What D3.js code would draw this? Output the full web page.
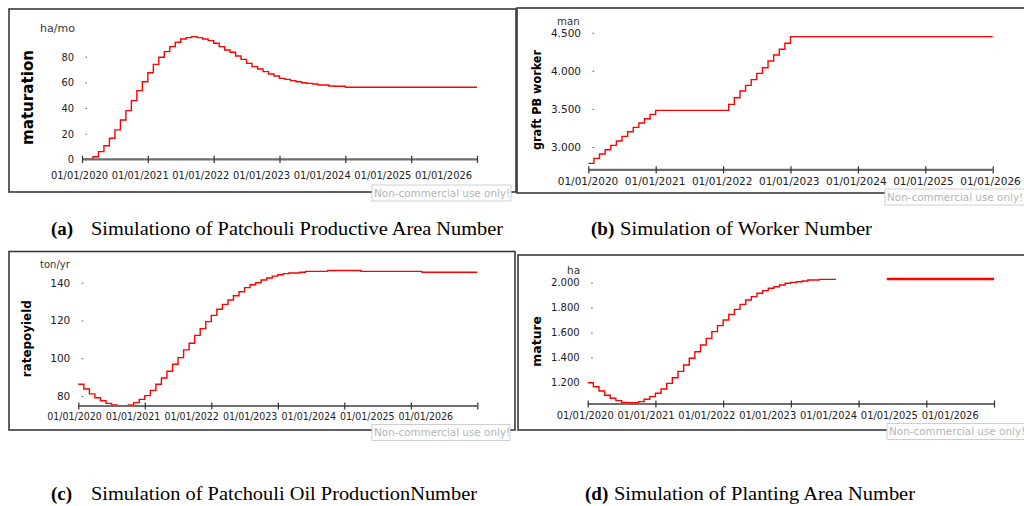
<!DOCTYPE html>
<html>
<head>
<meta charset="utf-8">
<script src="https://cdn.jsdelivr.net/npm/d3@7"></script>
<style>
  body { margin: 0; background: #fff; }
  svg { display: block; }
</style>
</head>
<body>
<script>
// tick labels on the time axis, one per year (a step = one month)
var yearLabels = ["01/01/2020", "01/01/2021", "01/01/2022", "01/01/2023", "01/01/2024", "01/01/2025", "01/01/2026"];
var yearMonths = [0, 12, 24, 36, 48, 60, 72];

// (a) maturation, ha/mo
var maturation = [0, 0, 2, 6, 10.6, 16.4, 22.9, 30.6, 37.9, 45.7, 53.5, 60.5,
    67.5, 74, 79.5, 83.9, 87.8, 91.2, 93.8, 94.8, 95.6, 94.8, 93.8, 92.5,
    90.4, 87.8, 85.2, 83.4, 80.5, 77.9, 74.8, 72.2, 70.4, 68.3, 66.5, 64.9,
    63.1, 62.3, 61.3, 60.5, 59.7, 59.2, 58.7, 57.9, 57.9, 57.1, 56.9, 56.9,
    56.1, 56.1, 56.1, 56.1, 56.1, 56.1, 56.1, 56.1, 56.1, 56.1, 56.1, 56.1,
    56.1, 56.1, 56.1, 56.1, 56.1, 56.1, 56.1, 56.1, 56.1, 56.1, 56.1, 56.1];

// (b) graft PB worker, man
var graftWorker = [2786, 2851, 2908, 2965, 3022, 3079, 3140, 3201, 3258, 3315, 3372, 3429,
    3481, 3481, 3481, 3481, 3481, 3481, 3481, 3481, 3481, 3481, 3481, 3481,
    3481, 3560, 3647, 3735, 3809, 3884, 3967, 4041, 4129, 4208, 4282, 4361,
    4448, 4448, 4448, 4448, 4448, 4448, 4448, 4448, 4448, 4448, 4448, 4448,
    4448, 4448, 4448, 4448, 4448, 4448, 4448, 4448, 4448, 4448, 4448, 4448,
    4448, 4448, 4448, 4448, 4448, 4448, 4448, 4448, 4448, 4448, 4448, 4448];

// (c) ratepoyield, ton/yr
var ratePoYield = [86.2, 83.7, 81.1, 79.1, 77.5, 76.1, 75.2, 74.7, 74.7, 75.2, 76.5, 78.2,
    80.2, 83, 86.2, 89.5, 93.1, 96.8, 100.3, 104.4, 107.9, 112.1, 115.7, 119.4,
    122.7, 125.9, 128.5, 130.8, 133.1, 135.2, 137.4, 138.9, 140, 141.4, 142.5, 143.5,
    144.2, 144.8, 145.1, 145.1, 145.5, 146, 146, 146, 146, 146.5, 146.5, 146.5,
    146.5, 146.5, 146.5, 146, 146, 146, 146, 146, 146, 146, 146, 146,
    146, 146, 145.5, 145.5, 145.5, 145.5, 145.5, 145.5, 145.5, 145.5, 145.5, 145.5];

// (d) mature, ha  (null = no value drawn)
var matureArea = [1197, 1165, 1130, 1096, 1072, 1053, 1039, 1037, 1037, 1045, 1064, 1085,
    1112, 1146, 1192, 1237, 1288, 1339, 1393, 1446, 1500, 1553, 1607, 1655,
    1700, 1746, 1786, 1826, 1861, 1888, 1915, 1936, 1955, 1968, 1981, 1995,
    2003, 2008, 2014, 2022, 2022, 2027, 2027, 2027, null, null, null, null,
    null, null, null, null, null, 2030, 2030, 2030, 2030, 2030, 2030, 2030,
    2030, 2030, 2030, 2030, 2030, 2030, 2030, 2030, 2030, 2030, 2030, 2030];

var ticksA = [0, 20, 40, 60, 80],
    ticksB = [3000, 3500, 4000, 4500],
    ticksC = [80, 100, 120, 140],
    ticksD = [1200, 1400, 1600, 1800, 2000];

var dotFormat = d3.formatLocale({decimal: ",", thousands: ".", grouping: [3], currency: ["", ""]}).format(",.0f");

var panels = [
  {values: maturation, title: "maturation", unit: "ha/mo", ticks: ticksA, fmt: d3.format("d"),
   frame: [9, 9, 507, 183], xr: [82, 477], xl: [79, 443], xlabY: 16, xFont: "DejaVu Sans Condensed", xSize: 11,
   yd: [0, 100], yr: [159.3, 31], yAxisX: 87, ySize: 11, yFont: "DejaVu Sans Condensed",
   titleX: 27.5, titleY: 97.5, titleLen: 95, titleSize: 15, unitX: 40, unitY: 32, unitSize: 11,
   mark: [372, 185, 139, 16]},
  {values: graftWorker, title: "graft PB worker", unit: "man", ticks: ticksB, fmt: dotFormat,
   frame: [517, 8, 520, 185], xr: [588.3, 992.7], xl: [587.5, 990], xlabY: 12, xFont: "DejaVu Sans", xSize: 10.5,
   yd: [2700, 4500], yr: [169.9, 32.7], yAxisX: 594, ySize: 10.5, yFont: "DejaVu Sans",
   titleX: 536.5, titleY: 100, titleLen: 100, titleSize: 11.5, unitX: 557, unitY: 24.5, unitSize: 10.2,
   mark: [885, 189, 150, 16]},
  {values: ratePoYield, title: "ratepoyield", unit: "ton/yr", ticks: ticksC, fmt: d3.format("d"),
   frame: [9, 251.5, 506, 178.5], xr: [78.3, 477.3], xl: [74, 425.3], xlabY: 11, xFont: "DejaVu Sans Condensed", xSize: 10.5,
   yd: [74.7, 140], yr: [406, 282.7], yAxisX: 83.3, ySize: 10.5, yFont: "DejaVu Sans",
   titleX: 27, titleY: 338.7, titleLen: 77, titleSize: 12, unitX: 40, unitY: 267.5, unitSize: 10,
   mark: [372, 424.5, 138, 16]},
  {values: matureArea, title: "mature", unit: "ha", ticks: ticksD, fmt: dotFormat,
   frame: [518, 255, 520, 175], xr: [587.7, 994], xl: [584.7, 949.7], xlabY: 11.5, xFont: "DejaVu Sans Condensed", xSize: 11,
   yd: [1026, 2000], yr: [404, 282.7], yAxisX: 592.7, ySize: 10, yFont: "DejaVu Sans",
   titleX: 536.5, titleY: 341.3, titleLen: 50.7, titleSize: 12.4, unitX: 567, unitY: 273.5, unitSize: 10.5,
   mark: [887, 423.5, 150, 16], thickLast: true}
];

var captions = [
  {tag: "(a)", text: "Simulationo of Patchouli Productive Area Number", tagX: 51, x: 91, end: 503, y: 235},
  {tag: "(b)", text: "Simulation of Worker Number", tagX: 591, x: 620, end: 872, y: 235},
  {tag: "(c)", text: "Simulation of Patchouli Oil ProductionNumber", tagX: 51, x: 91, end: 477, y: 500},
  {tag: "(d)", text: "Simulation of Planting Area Number", tagX: 585, x: 614, end: 915, y: 500}
];

var svg = d3.select("body").append("svg").attr("width", 1024).attr("height", 506);
svg.append("rect").attr("width", 1024).attr("height", 506).attr("fill", "#fff");

// split a monthly series into runs without gaps, each run closed at its last month end
var getSegments = function(values) {
    var segs = [], cur = null;
    values.forEach(function(v, i) {
        if (v === null) { cur = null; return; }
        if (cur === null) { cur = []; segs.push(cur); }
        cur.push([i, v]);
    });
    segs.forEach(function(s) {
        var last = s[s.length - 1];
        s.push([last[0] + 1, last[1]]);
    });
    return segs;
};

var drawPanel = function(p) {
    var g = svg.append("g");
    var f = p.frame;
    g.append("rect").attr("x", f[0]).attr("y", f[1]).attr("width", f[2]).attr("height", f[3])
        .attr("fill", "none").attr("stroke", "#3a3a3a").attr("stroke-width", 1.6);

    var x = d3.scaleLinear().domain([0, 72]).range(p.xr);
    var xl = d3.scaleLinear().domain([0, 72]).range(p.xl);
    var y = d3.scaleLinear().domain(p.yd).range(p.yr);
    var y0 = p.yr[0];

    var line = d3.line().x(function(d) { return x(d[0]); }).y(function(d) { return y(d[1]); })
        .curve(d3.curveStepAfter);
    getSegments(p.values).forEach(function(seg, k) {
        g.append("path").attr("d", line(seg)).attr("fill", "none")
            .attr("stroke", "#ff0000")
            .attr("stroke-width", (p.thickLast && k > 0) ? 2.6 : 1.4);
    });

    // x axis: gray base line with ticks through it
    g.append("line").attr("x1", x(0)).attr("x2", x(72)).attr("y1", y0).attr("y2", y0)
        .attr("stroke", "#6e6e6e").attr("stroke-width", 2.2);
    var ax = g.append("g").attr("transform", "translate(0," + y0 + ")")
        .call(d3.axisBottom(x).tickValues(yearMonths).tickFormat("").tickSizeOuter(0));
    ax.select(".domain").remove();
    ax.selectAll(".tick line").attr("y1", -3.6).attr("y2", 3.6).attr("stroke", "#333").attr("stroke-width", 1.2);

    var al = g.append("g").attr("transform", "translate(0," + y0 + ")")
        .call(d3.axisBottom(xl).tickValues(yearMonths).tickSize(0).tickPadding(p.xlabY - 4)
            .tickFormat(function(d, i) { return yearLabels[i]; }));
    al.select(".domain").remove();
    al.selectAll("text").attr("font-family", p.xFont).attr("font-size", p.xSize).attr("fill", "#222");

    // y axis: tiny tick marks, no base line
    var ay = g.append("g").attr("transform", "translate(" + p.yAxisX + ",0)")
        .call(d3.axisLeft(y).tickValues(p.ticks).tickFormat(p.fmt).tickSize(1.5).tickPadding(11.5));
    ay.select(".domain").remove();
    ay.selectAll(".tick line").attr("stroke", "#555");
    ay.selectAll("text").attr("font-family", p.yFont).attr("font-size", p.ySize).attr("fill", "#222");

    g.append("text").attr("x", p.unitX).attr("y", p.unitY).text(p.unit)
        .attr("font-family", "DejaVu Sans").attr("font-size", p.unitSize).attr("fill", "#333");

    g.append("text").attr("transform", "translate(" + p.titleX + "," + p.titleY + ") rotate(-90)")
        .attr("text-anchor", "middle").attr("dy", "0.35em").text(p.title)
        .attr("font-family", "DejaVu Sans").attr("font-weight", "bold").attr("font-size", p.titleSize)
        .attr("textLength", p.titleLen).attr("lengthAdjust", "spacingAndGlyphs").attr("fill", "#000");

    // watermark
    var m = p.mark;
    g.append("rect").attr("x", m[0]).attr("y", m[1]).attr("width", m[2]).attr("height", m[3])
        .attr("fill", "#fff").attr("stroke", "#cfcfcf").attr("stroke-width", 1);
    g.append("text").attr("x", m[0] + 2).attr("y", m[1] + 11.5).text("Non-commercial use only!")
        .attr("font-family", "DejaVu Sans").attr("font-size", 10.4).attr("fill", "#b4b4b4");
};

panels.forEach(drawPanel);

captions.forEach(function(c) {
    svg.append("text").attr("x", c.tagX).attr("y", c.y).text(c.tag)
        .attr("font-family", "Liberation Serif").attr("font-weight", "bold").attr("font-size", 19).attr("fill", "#000");
    svg.append("text").attr("x", c.x).attr("y", c.y).text(c.text)
        .attr("font-family", "Liberation Serif").attr("font-size", 19).attr("fill", "#000")
        .attr("textLength", c.end - c.x).attr("lengthAdjust", "spacingAndGlyphs");
});
</script>
</body>
</html>
